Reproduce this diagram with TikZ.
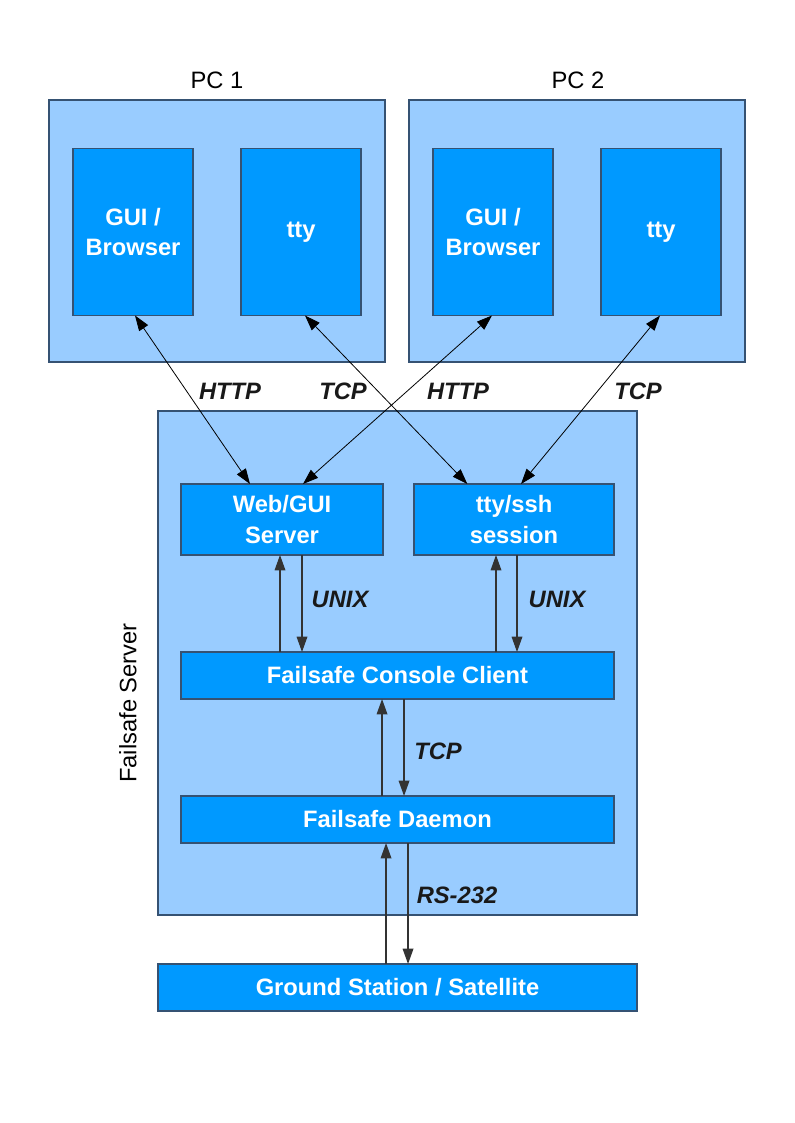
\documentclass[tikz,border=0pt]{standalone}
\usepackage{fontspec}
\setmainfont{Liberation Sans}
\usetikzlibrary{arrows.meta}
\definecolor{lightblue}{HTML}{99CCFF}
\definecolor{midblue}{HTML}{0099FF}
\definecolor{edgeblue}{HTML}{355273}
\begin{document}
\begin{tikzpicture}[x=0.75pt, y=-0.75pt, every node/.style={font=\fontsize{17.8}{22.8}\selectfont},
  outer/.style={draw=edgeblue,line width=0.8pt,fill=lightblue,inner sep=0pt,outer sep=0pt},
  inner/.style={draw=edgeblue,line width=0.8pt,fill=midblue,inner sep=0pt,outer sep=0pt,text=white,align=center,font=\fontsize{17.8}{22.8}\selectfont\bfseries},
  proto/.style={font=\fontsize{17.8}{22.8}\selectfont\bfseries\itshape,text=black!90},
  link/.style={{Triangle[length=11.5pt,width=8pt]}-{Triangle[length=11.5pt,width=8pt]},line width=0.6pt},
  flow/.style={-{Triangle[length=11.5pt,width=8pt]},line width=0.9pt,black!80}]
  \useasboundingbox (0,0) rectangle (794,1123);
  % the two PCs
  \node[outer,minimum width=252pt,minimum height=196.5pt] (pc1) at (217,231) {};
  \node[outer,minimum width=252pt,minimum height=196.5pt] (pc2) at (577,231) {};
  \node (pc1lbl) at (217,80) {PC 1};
  \node (pc2lbl) at (578,80) {PC 2};
  \node[inner,minimum width=90pt,minimum height=125.25pt] (gui1) at (133,232) {GUI /\\Browser};
  \node[inner,minimum width=90pt,minimum height=125.25pt] (tty1) at (301,232) {tty};
  \node[inner,minimum width=90pt,minimum height=125.25pt] (gui2) at (493,232) {GUI /\\Browser};
  \node[inner,minimum width=90pt,minimum height=125.25pt] (tty2) at (661,232) {tty};
  % server
  \node[outer,minimum width=359.25pt,minimum height=378pt] (srv) at (397.5,663) {};
  \node[rotate=90] (srvlbl) at (128,703) {Failsafe Server};
  \node[inner,minimum width=151.5pt,minimum height=53.25pt] (web) at (282,519.5) {Web/GUI\\Server};
  \node[inner,minimum width=150pt,minimum height=53.25pt] (ssh) at (514,519.5) {tty/ssh\\session};
  \node[inner,minimum width=324.75pt,minimum height=35.25pt] (cons) at (397.5,675.5) {Failsafe Console Client};
  \node[inner,minimum width=324.75pt,minimum height=35.25pt] (dmn) at (397.5,819.5) {Failsafe Daemon};
  \node[inner,minimum width=359.25pt,minimum height=35.25pt] (gnd) at (397.5,987.5) {Ground Station / Satellite};
  % PC links
  \draw[link] ([xshift=1.5pt]gui1.south) -- ([xshift=-24pt]web.north);
  \draw[link] ([xshift=3pt]tty1.south) -- ([xshift=-35pt]ssh.north);
  \draw[link] ([xshift=-0.75pt]gui2.south) -- ([xshift=15.75pt]web.north);
  \draw[link] ([xshift=-0.75pt]tty2.south) -- ([xshift=5.25pt]ssh.north);
  \node[proto] (http1) at (230,391) {HTTP};
  \node[proto] (tcp1) at (343,391) {TCP};
  \node[proto] (http2) at (458,391) {HTTP};
  \node[proto] (tcp2) at (638,391) {TCP};
  % inside the server
  \draw[flow] ([xshift=-1.5pt]web.south |- cons.north) -- ([xshift=-1.5pt]web.south);
  \draw[flow] ([xshift=15pt]web.south) -- ([xshift=15pt]web.south |- cons.north);
  \draw[flow] ([xshift=-13.5pt]ssh.south |- cons.north) -- ([xshift=-13.5pt]ssh.south);
  \draw[flow] ([xshift=2.25pt]ssh.south) -- ([xshift=2.25pt]ssh.south |- cons.north);
  \node[proto] (unix1) at (340,599) {UNIX};
  \node[proto] (unix2) at (557,599) {UNIX};
  \draw[flow] ([xshift=-11.6pt]cons.south |- dmn.north) -- ([xshift=-11.6pt]cons.south);
  \draw[flow] ([xshift=4.9pt]cons.south) -- ([xshift=4.9pt]cons.south |- dmn.north);
  \node[proto] (tcp3) at (438,751) {TCP};
  \draw[flow] ([xshift=-8.6pt]dmn.south |- gnd.north) -- ([xshift=-8.6pt]dmn.south);
  \draw[flow] ([xshift=7.9pt]dmn.south) -- ([xshift=7.9pt]dmn.south |- gnd.north);
  \node[proto] (rs) at (457,895) {RS-232};
\end{tikzpicture}
\end{document}
